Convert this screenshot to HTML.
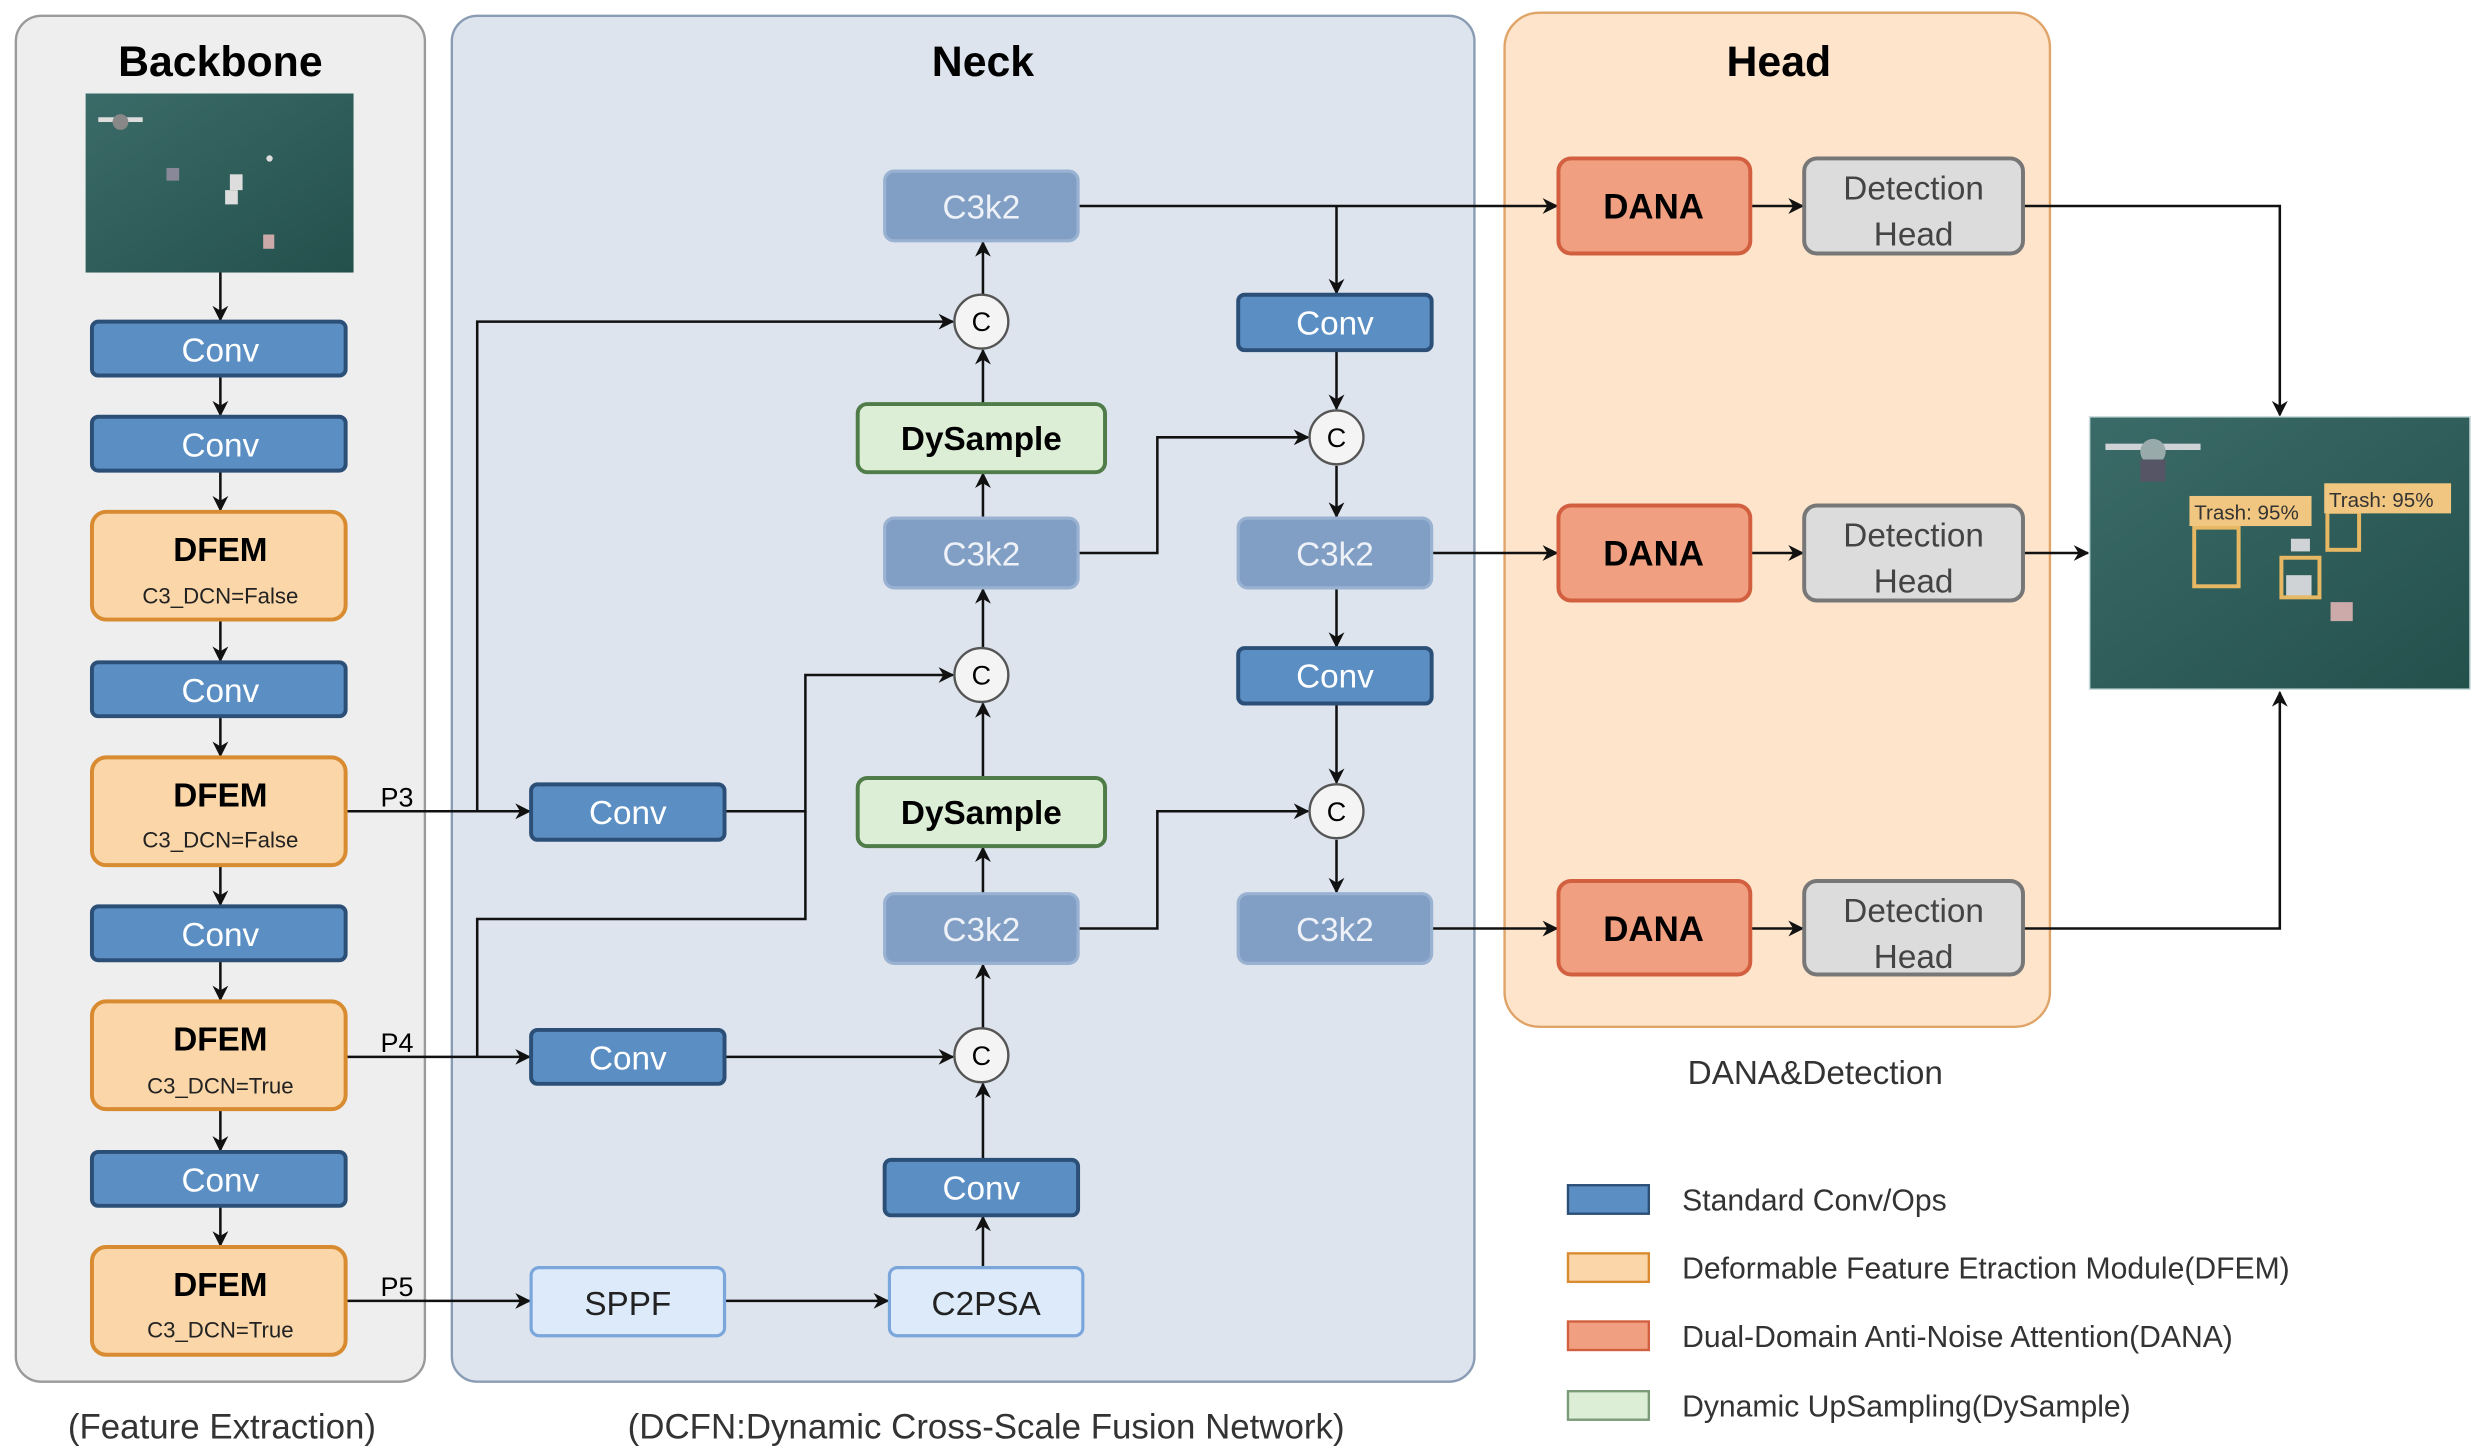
<!DOCTYPE html>
<html><head><meta charset="utf-8"><style>
html,body{margin:0;padding:0;background:#fff;}
svg{display:block;}
text{font-family:"Liberation Sans",sans-serif;}
</style></head><body>
<svg width="2478" height="1453" viewBox="0 0 1563 917" preserveAspectRatio="none" xmlns="http://www.w3.org/2000/svg">
<defs>
<marker id="a" markerWidth="10" markerHeight="10" refX="9" refY="5" orient="auto" markerUnits="userSpaceOnUse"><path d="M0,0 L10,5 L0,10 L3,5 z" fill="#111"/></marker>
<linearGradient id="sea" x1="0" y1="0" x2="1" y2="1"><stop offset="0" stop-color="#3b6b68"/><stop offset="1" stop-color="#24504c"/></linearGradient>
</defs>
<rect width="1563" height="917" fill="#fff"/>
<!-- panels -->
<rect x="10" y="10" width="258" height="862" rx="16" fill="#eeeeee" stroke="#9a9a9a" stroke-width="1.5"/>
<rect x="285" y="10" width="645" height="862" rx="16" fill="#dde4ee" stroke="#8a9cb4" stroke-width="1.5"/>
<rect x="949" y="8" width="344" height="640" rx="22" fill="#fde4cb" stroke="#e0a468" stroke-width="1.5"/>
<text x="139" y="48" font-size="27" font-weight="bold" text-anchor="middle">Backbone</text>
<text x="620" y="48" font-size="27" font-weight="bold" text-anchor="middle">Neck</text>
<text x="1122" y="48" font-size="27" font-weight="bold" text-anchor="middle">Head</text>

<!-- input image -->
<rect x="54" y="59" width="169" height="113" fill="url(#sea)"/>
<g fill="#ddd"><rect x="62" y="74" width="28" height="3"/><circle cx="76" cy="77" r="5" fill="#888"/><rect x="105" y="106" width="8" height="8" fill="#889"/><rect x="145" y="110" width="8" height="10"/><rect x="142" y="120" width="8" height="9"/><rect x="166" y="148" width="7" height="9" fill="#caa"/><circle cx="170" cy="100" r="2"/></g>

<g stroke="#111" stroke-width="1.6" fill="none" marker-end="url(#a)">
<!-- backbone arrows -->
<line x1="139" y1="172" x2="139" y2="202"/>
<line x1="139" y1="237" x2="139" y2="262"/>
<line x1="139" y1="297" x2="139" y2="322"/>
<line x1="139" y1="391" x2="139" y2="417"/>
<line x1="139" y1="452" x2="139" y2="477"/>
<line x1="139" y1="546" x2="139" y2="571"/>
<line x1="139" y1="606" x2="139" y2="631"/>
<line x1="139" y1="700" x2="139" y2="726"/>
<line x1="139" y1="761" x2="139" y2="786"/>
<!-- P lines -->
<line x1="218" y1="512" x2="334" y2="512"/>
<line x1="218" y1="667" x2="334" y2="667"/>
<line x1="218" y1="821" x2="334" y2="821"/>
<polyline points="301,512 301,203 601,203"/>
<polyline points="457,512 508,512 508,426 601,426"/>
<polyline points="301,667 301,580 508,580 508,512"  marker-end="none"/>
<line x1="457" y1="667" x2="601" y2="667"/>
<line x1="457" y1="821" x2="560" y2="821"/>
<!-- col1 up -->
<line x1="620" y1="800" x2="620" y2="768"/>
<line x1="620" y1="732" x2="620" y2="684"/>
<line x1="620" y1="649" x2="620" y2="609"/>
<line x1="620" y1="564" x2="620" y2="535"/>
<line x1="620" y1="491" x2="620" y2="444"/>
<line x1="620" y1="409" x2="620" y2="372"/>
<line x1="620" y1="327" x2="620" y2="299"/>
<line x1="620" y1="255" x2="620" y2="221"/>
<line x1="620" y1="186" x2="620" y2="153"/>
<!-- cross -->
<polyline points="680,586 730,586 730,512 825,512"/>
<polyline points="680,349 730,349 730,276 825,276"/>
<line x1="680" y1="130" x2="982" y2="130"/>
<polyline points="843,130 843,185"/>
<line x1="843" y1="221" x2="843" y2="258"/>
<line x1="843" y1="294" x2="843" y2="326"/>
<line x1="843" y1="371" x2="843" y2="408"/>
<line x1="843" y1="444" x2="843" y2="494"/>
<line x1="843" y1="530" x2="843" y2="563"/>
<line x1="903" y1="349" x2="982" y2="349"/>
<line x1="903" y1="586" x2="982" y2="586"/>
<line x1="1104" y1="130" x2="1137" y2="130"/>
<line x1="1104" y1="349" x2="1137" y2="349"/>
<line x1="1104" y1="586" x2="1137" y2="586"/>
<polyline points="1276,130 1438,130 1438,262"/>
<line x1="1276" y1="349" x2="1317" y2="349"/>
<polyline points="1276,586 1438,586 1438,437"/>
</g>

<!-- backbone boxes -->
<g font-size="21" text-anchor="middle">
<g fill="#5b8fc4" stroke="#2c4f78" stroke-width="2.5">
<rect x="58" y="203" width="160" height="34" rx="4"/><rect x="58" y="263" width="160" height="34" rx="4"/>
<rect x="58" y="418" width="160" height="34" rx="4"/><rect x="58" y="572" width="160" height="34" rx="4"/>
<rect x="58" y="727" width="160" height="34" rx="4"/>
<rect x="335" y="495" width="122" height="35" rx="4"/><rect x="335" y="650" width="122" height="34" rx="4"/>
<rect x="558" y="732" width="122" height="35" rx="4"/>
<rect x="781" y="186" width="122" height="35" rx="4"/><rect x="781" y="409" width="122" height="35" rx="4"/>
</g>
<g fill="#fff">
<text x="139" y="228">Conv</text><text x="139" y="288">Conv</text><text x="139" y="443">Conv</text><text x="139" y="597">Conv</text><text x="139" y="752">Conv</text>
<text x="396" y="520">Conv</text><text x="396" y="675">Conv</text><text x="619" y="757">Conv</text>
<text x="842" y="211">Conv</text><text x="842" y="434">Conv</text>
</g>
<g fill="#fad6a8" stroke="#d88b30" stroke-width="2.5">
<rect x="58" y="323" width="160" height="68" rx="9"/><rect x="58" y="478" width="160" height="68" rx="9"/>
<rect x="58" y="632" width="160" height="68" rx="9"/><rect x="58" y="787" width="160" height="68" rx="9"/>
</g>
<g font-weight="bold" font-size="21"><text x="139" y="354">DFEM</text><text x="139" y="509">DFEM</text><text x="139" y="663">DFEM</text><text x="139" y="818">DFEM</text></g>
<g font-size="14" fill="#222"><text x="139" y="381">C3_DCN=False</text><text x="139" y="535">C3_DCN=False</text><text x="139" y="690">C3_DCN=True</text><text x="139" y="844">C3_DCN=True</text></g>
<g font-size="17" text-anchor="start"><text x="240" y="509">P3</text><text x="240" y="664">P4</text><text x="240" y="818">P5</text></g>
<!-- SPPF / C2PSA -->
<g fill="#dceaf9" stroke="#7aa6dc" stroke-width="2"><rect x="335" y="800" width="122" height="43" rx="5"/><rect x="561" y="800" width="122" height="43" rx="5"/></g>
<text x="396" y="830" font-size="21" fill="#222">SPPF</text><text x="622" y="830" font-size="21" fill="#222">C2PSA</text>
<!-- C3k2 -->
<g fill="#819fc4" stroke="#9ab2d2" stroke-width="2">
<rect x="558" y="108" width="122" height="44" rx="6"/><rect x="558" y="327" width="122" height="44" rx="6"/><rect x="558" y="564" width="122" height="44" rx="6"/>
<rect x="781" y="327" width="122" height="44" rx="6"/><rect x="781" y="564" width="122" height="44" rx="6"/>
</g>
<g fill="#eef2f8"><text x="619" y="138">C3k2</text><text x="619" y="357">C3k2</text><text x="619" y="594">C3k2</text><text x="842" y="357">C3k2</text><text x="842" y="594">C3k2</text></g>
<!-- DySample -->
<g fill="#dcefd6" stroke="#4f7c48" stroke-width="2.5"><rect x="541" y="255" width="156" height="43" rx="6"/><rect x="541" y="491" width="156" height="43" rx="6"/></g>
<g font-weight="bold" font-size="21"><text x="619" y="284">DySample</text><text x="619" y="520">DySample</text></g>
<!-- C circles -->
<g fill="#f4f4f4" stroke="#555" stroke-width="1.5">
<circle cx="619" cy="203" r="17"/><circle cx="619" cy="426" r="17"/><circle cx="619" cy="666" r="17"/>
<circle cx="843" cy="276" r="17"/><circle cx="843" cy="512" r="17"/>
</g>
<g font-size="17"><text x="619" y="209">C</text><text x="619" y="432">C</text><text x="619" y="672">C</text><text x="843" y="282">C</text><text x="843" y="518">C</text></g>
<!-- DANA -->
<g fill="#f0a080" stroke="#d26040" stroke-width="2.5"><rect x="983" y="100" width="121" height="60" rx="8"/><rect x="983" y="319" width="121" height="60" rx="8"/><rect x="983" y="556" width="121" height="59" rx="8"/></g>
<g font-weight="bold" font-size="22"><text x="1043" y="138">DANA</text><text x="1043" y="357">DANA</text><text x="1043" y="594">DANA</text></g>
<g fill="#dcdcdc" stroke="#777" stroke-width="2.5"><rect x="1138" y="100" width="138" height="60" rx="8"/><rect x="1138" y="319" width="138" height="60" rx="8"/><rect x="1138" y="556" width="138" height="59" rx="8"/></g>
<g font-size="21" fill="#444"><text x="1207" y="126">Detection</text><text x="1207" y="155">Head</text><text x="1207" y="345">Detection</text><text x="1207" y="374">Head</text><text x="1207" y="582">Detection</text><text x="1207" y="611">Head</text></g>
</g>

<!-- output image -->
<rect x="1318" y="263" width="240" height="172" fill="url(#sea)" stroke="#cdd" stroke-width="1"/>
<g fill="#cfd3d6"><rect x="1328" y="280" width="60" height="4"/><circle cx="1358" cy="285" r="8" fill="#9aa"/><rect x="1350" y="290" width="16" height="14" fill="#556"/><rect x="1470" y="380" width="14" height="12" fill="#caa"/><rect x="1442" y="363" width="16" height="14"/><rect x="1445" y="340" width="12" height="8"/></g>
<g fill="none" stroke="#e7b863" stroke-width="2.5"><rect x="1384" y="333" width="28" height="37"/><rect x="1439" y="352" width="24" height="25"/><rect x="1468" y="323" width="20" height="24"/></g>
<rect x="1381" y="313" width="77" height="19" fill="#f0c680"/><rect x="1466" y="305" width="80" height="19" fill="#f0c680"/>
<g font-size="13" fill="#333"><text x="1384" y="328">Trash: 95%</text><text x="1469" y="320">Trash: 95%</text></g>

<!-- captions -->
<text x="1145" y="684" font-size="21" text-anchor="middle" fill="#333">DANA&amp;Detection</text>
<text x="140" y="908" font-size="22" text-anchor="middle" fill="#333">(Feature Extraction)</text>
<text x="622" y="908" font-size="22" text-anchor="middle" fill="#333">(DCFN:Dynamic Cross-Scale Fusion Network)</text>

<!-- legend -->
<rect x="989" y="748" width="51" height="18" fill="#5b8fc4" stroke="#2c4f78" stroke-width="1.5"/>
<rect x="989" y="791" width="51" height="18" fill="#fad6a8" stroke="#d88b30" stroke-width="1.5"/>
<rect x="989" y="834" width="51" height="18" fill="#f0a080" stroke="#d26040" stroke-width="1.5"/>
<rect x="989" y="878" width="51" height="18" fill="#dcefd6" stroke="#7a9a78" stroke-width="1.5"/>
<g font-size="19" fill="#333"><text x="1061" y="764">Standard Conv/Ops</text><text x="1061" y="807">Deformable Feature Etraction Module(DFEM)</text><text x="1061" y="850">Dual-Domain Anti-Noise Attention(DANA)</text><text x="1061" y="894">Dynamic UpSampling(DySample)</text></g>
</svg>
</body></html>
